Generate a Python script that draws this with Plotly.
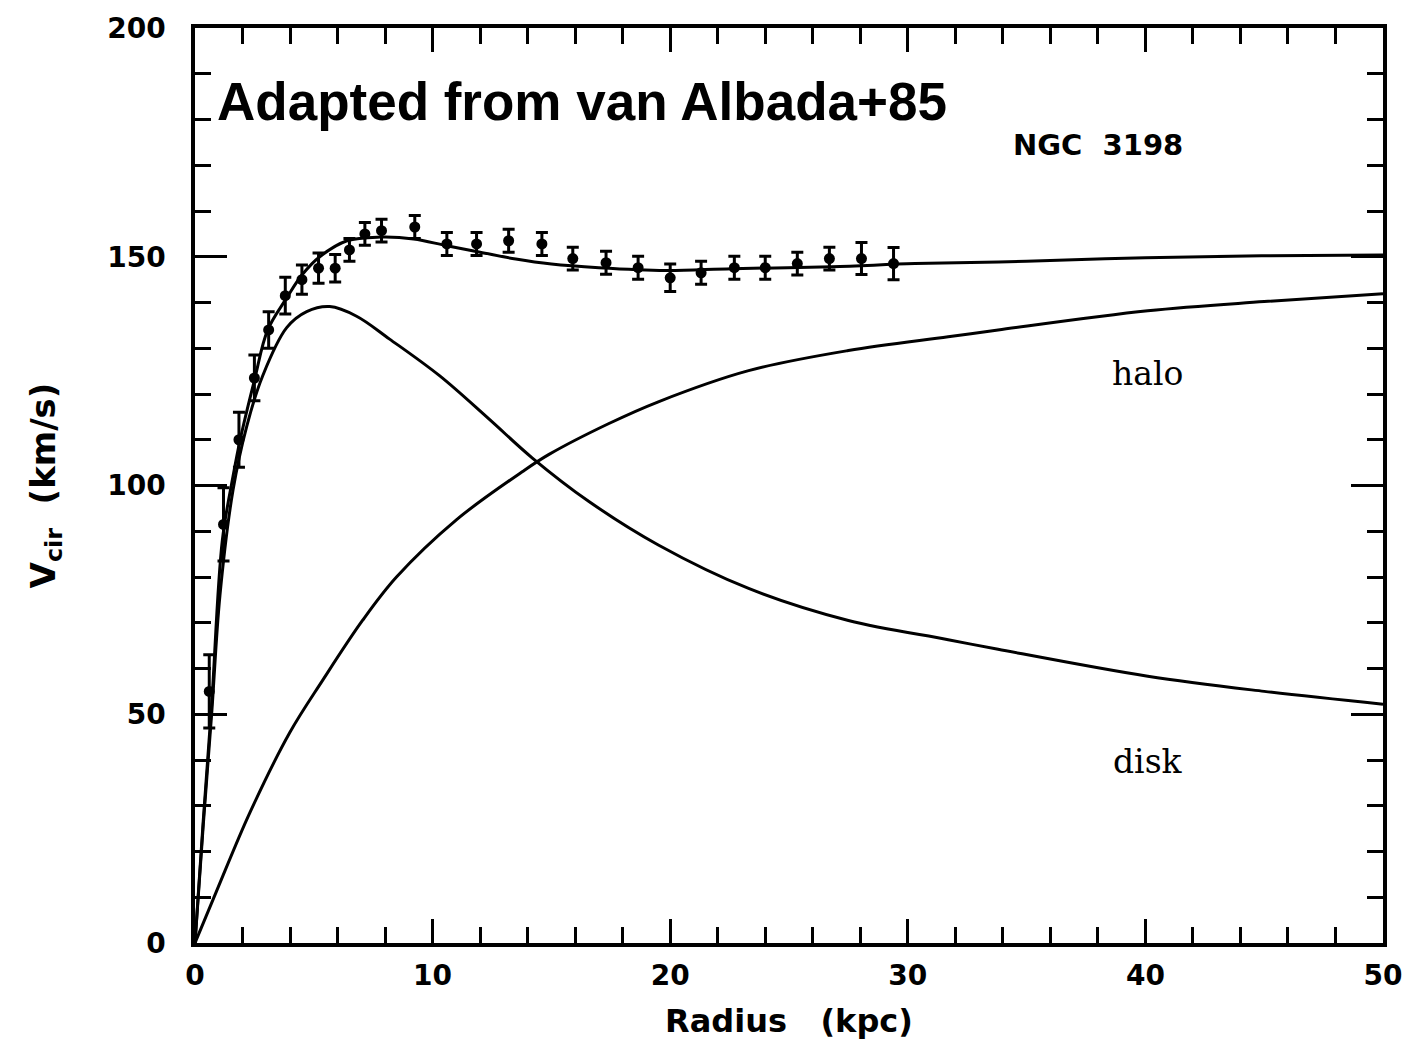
import plotly.graph_objects as go

# Observed rotation curve (NGC 3198)
radius_obs = [0.6, 1.2, 1.85, 2.5, 3.1, 3.8, 4.5, 5.2, 5.9, 6.5, 7.15, 7.85, 9.25, 10.6,
              11.85, 13.2, 14.6, 15.9, 17.3, 18.65, 20.0, 21.3, 22.7, 24.0, 25.35, 26.7, 28.05, 29.4]
v_obs = [55, 91.5, 110, 123.5, 134, 141.5, 145, 147.5, 147.5, 151.5, 155, 155.7, 156.5, 152.8,
         152.8, 153.5, 152.8, 149.6, 148.7, 147.6, 145.4, 146.5, 147.6, 147.6, 148.5, 149.6, 149.6, 148.5]
v_err = [8, 8, 6, 5, 4, 4, 3.2, 3.3, 3, 2.5, 2.5, 2.5, 2.5, 2.5,
         2.5, 2.5, 2.5, 2.5, 2.5, 2.5, 3, 2.5, 2.5, 2.5, 2.5, 2.5, 3.5, 3.5]

# Model: total fit
radius_total = [0, 0.35, 0.7, 1.15, 1.6, 1.9, 2.5, 3.06, 3.86, 4.5, 5.25, 6.4, 7.8, 9.2, 10.6,
                12, 13.5, 15, 17, 19.8, 22.6, 26.8, 30.3, 35, 40, 45, 50]
v_total = [0, 27, 52, 88, 102, 110, 123, 134, 141, 146, 150, 153.5, 154.3, 153.9, 152.4,
           151, 149.5, 148.4, 147.6, 147, 147.4, 147.8, 148.5, 149, 149.8, 150.2, 150.4]

# Model: disk component
radius_disk = [0, 0.35, 0.7, 1.05, 1.6, 2.18, 2.85, 3.86, 4.7, 5.67, 6.8, 8.19, 10.29, 12.38,
               14.2, 16.58, 19.5, 23.3, 27.5, 31.7, 33.8, 40.1, 45, 50]
v_disk = [0, 26, 50, 76, 99, 113, 124, 134.5, 138, 139.1, 137, 132, 124, 114.5,
          106, 96.5, 87, 77.5, 70.5, 66.3, 64.2, 58.3, 55, 52.2]

# Model: halo component
radius_halo = [0, 0.92, 2.31, 3.99, 5.37, 7.05, 8.48, 11.0, 13.77, 14.9, 17.4, 19.5,
               23.3, 27.5, 31.7, 33.8, 40.1, 45, 50]
v_halo = [0, 11.5, 28.5, 46, 57.4, 70.5, 80, 92.5, 103, 106.8, 113.5, 118.3,
          125.1, 129.5, 132.5, 134, 138.2, 140.2, 141.9]

x_ticks = [0, 10, 20, 30, 40, 50]
y_ticks = [0, 50, 100, 150, 200]

fig = go.Figure()
line_style = dict(color="black", width=3, shape="spline", smoothing=1.0)
fig.add_trace(go.Scatter(x=radius_total, y=v_total, mode="lines", line=line_style, name="total"))
fig.add_trace(go.Scatter(x=radius_disk, y=v_disk, mode="lines", line=line_style, name="disk"))
fig.add_trace(go.Scatter(x=radius_halo, y=v_halo, mode="lines", line=line_style, name="halo"))
fig.add_trace(go.Scatter(
    x=radius_obs, y=v_obs, mode="markers",
    marker=dict(color="black", size=11, symbol="circle"),
    error_y=dict(type="data", array=v_err, color="black", thickness=3, width=6),
    name="data"))

axis_common = dict(
    showline=True, linecolor="black", linewidth=3.5, mirror="allticks",
    ticks="inside", tickcolor="black", tickwidth=2.5,
    showgrid=False, zeroline=False,
    tickfont=dict(family="DejaVu Sans", size=28, color="black", weight="bold"),
)

fig.update_xaxes(
    range=[0, 50], tickvals=x_ticks, ticktext=[str(v) for v in x_ticks], ticklen=24,
    minor=dict(dtick=2, ticks="inside", ticklen=16, tickwidth=2.5, tickcolor="black", showgrid=False),
    title=dict(text="Radius   (kpc)", standoff=19,
               font=dict(family="DejaVu Sans", size=32, color="black", weight="bold")),
    ticklabelstandoff=5,
    **axis_common)
fig.update_yaxes(
    range=[0, 200], tickvals=y_ticks, ticktext=[str(v) for v in y_ticks], ticklen=32,
    minor=dict(dtick=10, ticks="inside", ticklen=16, tickwidth=2.5, tickcolor="black", showgrid=False),
    title=dict(text="V<sub>cir</sub>  (km/s)", standoff=42,
               font=dict(family="DejaVu Sans", size=34, color="black", weight="bold")),
    ticklabelstandoff=20,
    **axis_common)

fig.add_annotation(x=0.84, y=184, xref="x", yref="y", text="<b>Adapted from van Albada+85</b>",
                   showarrow=False, xanchor="left", yanchor="middle",
                   font=dict(family="Liberation Sans, Arial", size=53, color="black"))
fig.add_annotation(x=38.0, y=174.5, xref="x", yref="y", text="<b>NGC  3198</b>",
                   showarrow=False, xanchor="center", yanchor="middle",
                   font=dict(family="DejaVu Sans", size=29, color="black"))
fig.add_annotation(x=40.1, y=124.5, xref="x", yref="y", text="halo",
                   showarrow=False, xanchor="center", yanchor="middle",
                   font=dict(family="DejaVu Serif", size=33, color="black"))
fig.add_annotation(x=40.1, y=39.7, xref="x", yref="y", text="disk",
                   showarrow=False, xanchor="center", yanchor="middle",
                   font=dict(family="DejaVu Serif", size=33, color="black"))

fig.update_layout(
    width=1414, height=1046,
    margin=dict(l=195, r=28, t=27, b=103),
    paper_bgcolor="white", plot_bgcolor="white",
    showlegend=False,
)

fig.write_html("out.html")
